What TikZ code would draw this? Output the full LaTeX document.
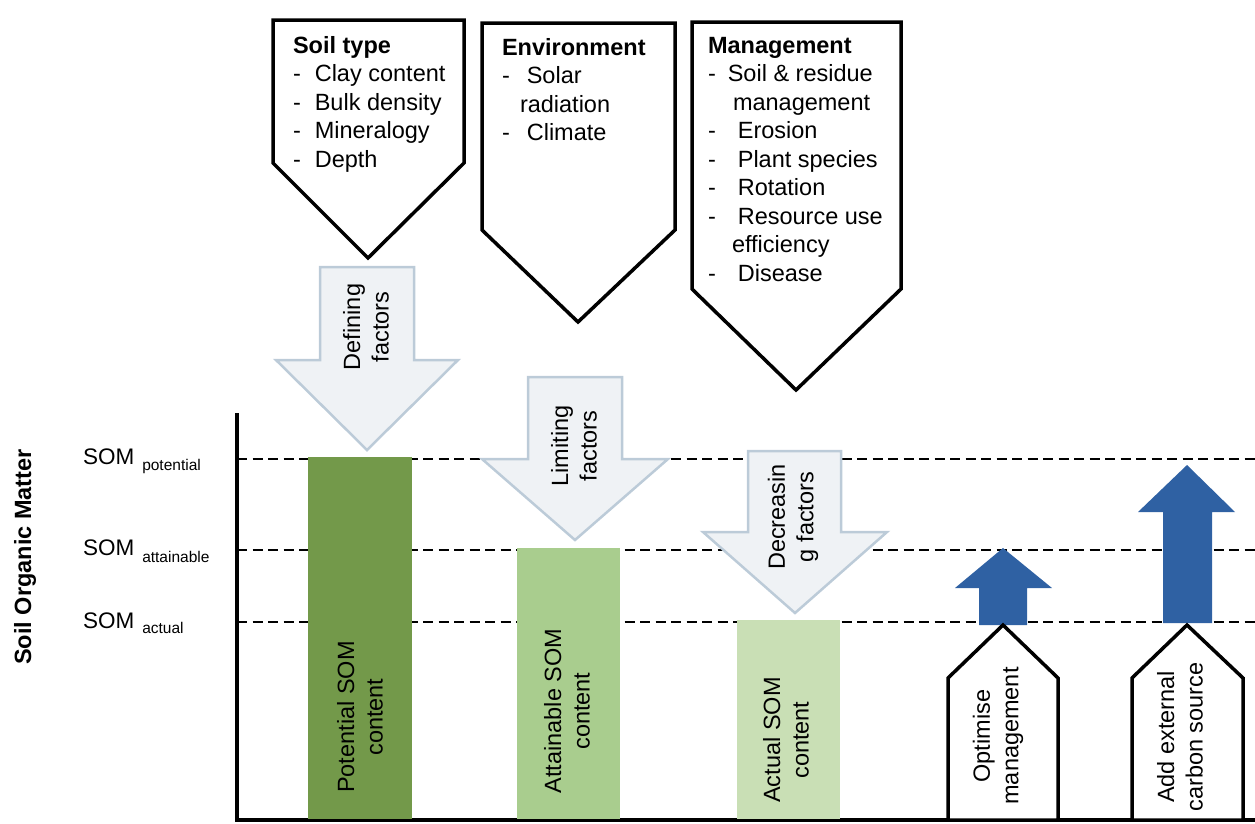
\documentclass[tikz,border=0pt]{standalone}
\usepackage{fontspec}
\setmainfont{Liberation Sans}
\definecolor{potgreen}{HTML}{73994A}
\definecolor{attgreen}{HTML}{A9CD8E}
\definecolor{actgreen}{HTML}{C9DFB5}
\definecolor{risblue}{HTML}{2F61A3}
\definecolor{grayfill}{HTML}{EFF2F5}
\definecolor{grayedge}{HTML}{BCCBD8}
\begin{document}
\begin{tikzpicture}[x=1pt,y=-1pt,
  every node/.style={inner sep=0pt, outer sep=0pt},
  txt/.style={font=\fontsize{23.5}{28.5}\selectfont},
  vtxt/.style={txt, rotate=90, align=center},
  framebox/.style={draw=black, line width=3.5pt, fill=white, line join=miter},
  factorarrow/.style={draw=grayedge, fill=grayfill, line width=2.5pt, line join=miter},
  riser/.style={fill=risblue},
  level/.style={dash pattern=on 10pt off 5.5pt, line width=2.8pt},
  axisline/.style={line width=3.2pt}]
\useasboundingbox (0,0) rectangle (1255,823);

% levels of soil organic matter
\coordinate (potL) at (237,459); \coordinate (potR) at (1255,459);
\coordinate (attL) at (237,550); \coordinate (attR) at (1255,550);
\coordinate (actL) at (237,622); \coordinate (actR) at (1255,622);
\draw[level] (potL) -- (potR);
\draw[level] (attL) -- (attR);
\draw[level] (actL) -- (actR);

% axes
\coordinate (ytop) at (237,413);
\coordinate (origin) at (237,820);
\coordinate (xend) at (1255,820);
\draw[axisline] (ytop) -- (origin) -- (xend);

% bars
\fill[potgreen] (308,457) rectangle (412,819);
\fill[attgreen] (517,548) rectangle (620,819);
\fill[actgreen] (737,620) rectangle (840,819);
\node[vtxt] (potbar) at (360,717) {Potential SOM\\content};
\node[vtxt] (attbar) at (567,711) {Attainable SOM\\content};
\node[vtxt] (actbar) at (786,740) {Actual SOM\\content};

% axis labels
\node[txt, font=\fontsize{23.5}{28.5}\selectfont\bfseries, rotate=90] (ylabel) at (25,557) {Soil Organic Matter};
\node[anchor=base west, font=\fontsize{22.5}{27}\selectfont] (lpot) at (83,464)
  {SOM\hspace{8pt}\raisebox{-6pt}{\fontsize{15.5}{18}\selectfont potential}};
\node[anchor=base west, font=\fontsize{22.5}{27}\selectfont] (latt) at (83,555)
  {SOM\hspace{8pt}\raisebox{-7pt}{\fontsize{15.5}{18}\selectfont attainable}};
\node[anchor=base west, font=\fontsize{22.5}{27}\selectfont] (lact) at (83,628)
  {SOM\hspace{8pt}\raisebox{-5pt}{\fontsize{15.5}{18}\selectfont actual}};

% factor boxes
\draw[framebox] (273,20) -- (464,20) -- (464,163) -- (368,258) -- (273,163) -- cycle;
\draw[framebox] (482,23) -- (675,23) -- (675,230) -- (578,322) -- (482,230) -- cycle;
\draw[framebox] (692,22) -- (901,22) -- (901,289) -- (796,390) -- (692,289) -- cycle;

\node[txt, anchor=base west] (soiltype) at (293,53) {\begin{tabular}[t]{@{}l@{}}
\textbf{Soil type}\\
-\hspace{14pt}Clay content\\
-\hspace{14pt}Bulk density\\
-\hspace{14pt}Mineralogy\\
-\hspace{14pt}Depth
\end{tabular}};
\node[txt, anchor=base west] (environment) at (502,55) {\begin{tabular}[t]{@{}l@{}}
\textbf{Environment}\\
-\hspace{17pt}Solar\\
\hspace{18pt}radiation\\
-\hspace{17pt}Climate
\end{tabular}};
\node[txt, anchor=base west] (management) at (708,53) {\begin{tabular}[t]{@{}l@{}}
\textbf{Management}\\
-\hspace{12pt}Soil \& residue\\
\hspace{25pt}management\\
-\hspace{22pt}Erosion\\
-\hspace{22pt}Plant species\\
-\hspace{22pt}Rotation\\
-\hspace{22pt}Resource use\\
\hspace{24pt}efficiency\\
-\hspace{22pt}Disease
\end{tabular}};

% factor arrows
\draw[factorarrow] (320,267) -- (414,267) -- (414,360) -- (458,360) -- (367,450) -- (276,360) -- (320,360) -- cycle;
\draw[factorarrow] (528,377) -- (622,377) -- (622,459) -- (668,459) -- (575,540) -- (482,459) -- (528,459) -- cycle;
\draw[factorarrow] (748,451) -- (841,451) -- (841,532) -- (887,532) -- (795,613) -- (703,532) -- (748,532) -- cycle;
\node[vtxt] (defining) at (366,327) {Defining\\factors};
\node[vtxt] (limiting) at (574,446) {Limiting\\factors};
\node[vtxt] (decreasing) at (793,517) {Decreasin\\g factors};

% raising arrows
\fill[riser] (979,625) -- (979,588) -- (955,588) -- (1003,548) -- (1052,588) -- (1027,588) -- (1027,625) -- cycle;
\fill[riser] (1163,623) -- (1163,512) -- (1138,512) -- (1187,465) -- (1235,512) -- (1212,512) -- (1212,623) -- cycle;

% measure boxes
\draw[framebox] (948,820) -- (948,678) -- (1003,625) -- (1058,678) -- (1058,820) -- cycle;
\draw[framebox] (1132,820) -- (1132,678) -- (1187,625) -- (1243,678) -- (1243,820) -- cycle;
\node[vtxt] (optimise) at (998,736) {Optimise\\management};
\node[vtxt] (addcarbon) at (1180,737) {Add external\\carbon source};
\end{tikzpicture}
\end{document}
